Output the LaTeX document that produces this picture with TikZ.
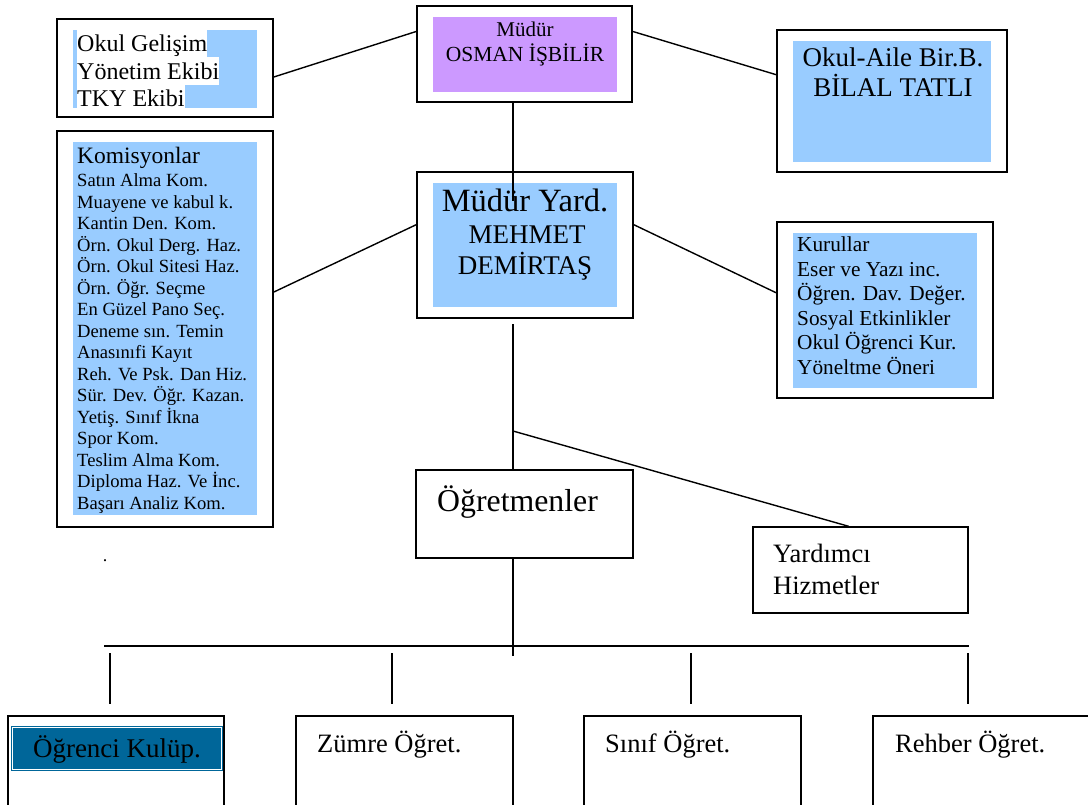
\documentclass[tikz,border=0pt]{standalone}
\usepackage{fontspec}
\setmainfont{Liberation Serif}
\usetikzlibrary{calc}
\definecolor{lblue}{HTML}{99CCFF}
\definecolor{lpurp}{HTML}{CC99FF}
\definecolor{dblue}{HTML}{006699}
\begin{document}
\begin{tikzpicture}[x=1pt,y=-1pt,
  box/.style={draw=black, line width=1.8pt, fill=white, inner sep=0pt},
  fillrect/.style={inner sep=0pt, draw=none},
  conn/.style={line width=1.4pt, line cap=rect},
  txt/.style={inner sep=0pt, anchor=base west},
  ctxt/.style={inner sep=0pt, anchor=base},
]
\useasboundingbox (0,0) rectangle (1088,805);

% ---------- boxes ----------
\node[box, minimum width=216pt, minimum height=98pt] (og) at (165,68) {};
\node[box, minimum width=215pt, minimum height=96pt] (mud) at (524.5,54) {};
\node[box, minimum width=230pt, minimum height=142pt] (oab) at (892,101) {};
\node[box, minimum width=216pt, minimum height=396pt] (kom) at (165,329) {};
\node[box, minimum width=216pt, minimum height=146pt] (my) at (525,245) {};
\node[box, minimum width=216pt, minimum height=176pt] (kur) at (885,310) {};
\node[box, minimum width=217pt, minimum height=88pt] (ogr) at (524.5,514) {};
\node[box, minimum width=215pt, minimum height=86pt] (yh) at (860.5,570) {};
\node[box, minimum width=216pt, minimum height=92pt] (ok) at (116,762) {};
\node[box, minimum width=217pt, minimum height=92pt] (zo) at (404.5,762) {};
\node[box, minimum width=217pt, minimum height=92pt] (si) at (692.5,762) {};
\node[box, minimum width=217pt, minimum height=92pt] (re) at (981.5,762) {};

% ---------- fills ----------
\node[fillrect, fill=lblue, minimum width=184pt, minimum height=78pt] (ogf) at (165,69) {};
\node[fillrect, fill=lpurp, minimum width=184pt, minimum height=75pt] (mudf) at (525,54.5) {};
\node[fillrect, fill=lblue, minimum width=198pt, minimum height=121pt] (oabf) at (892,101.5) {};
\node[fillrect, fill=lblue, minimum width=184pt, minimum height=373pt] (komf) at (165,328.5) {};
\node[fillrect, fill=lblue, minimum width=184pt, minimum height=124pt] (myf) at (525,245) {};
\node[fillrect, fill=lblue, minimum width=184pt, minimum height=155pt] (kurf) at (885,310.5) {};
\node[fillrect, fill=dblue, minimum width=212pt, minimum height=45pt] (okf) at (117,748.5) {};
\draw[white, line width=0.8pt] ($(okf.north west)+(2,2)$) rectangle ($(okf.south east)+(-2,-2)$);

% ---------- texts ----------
\node[txt, fill=white, text height=22pt, text depth=5pt, font=\fontsize{24}{27}\selectfont] (og1) at (77,52) {Okul Gelişim};
\node[txt, fill=white, text height=22.5pt, text depth=5.5pt, font=\fontsize{24}{27}\selectfont] (og2) at (77,79.5) {Yönetim Ekibi};
\node[txt, fill=white, text height=22pt, text depth=1pt, font=\fontsize{24}{27}\selectfont] (og3) at (77,107) {TKY Ekibi};

\node[ctxt, font=\fontsize{21}{24}\selectfont] (mud1) at (525,37) {Müdür};
\node[ctxt, font=\fontsize{21.5}{25}\selectfont] (mud2) at (525,62) {OSMAN İŞBİLİR};

\node[ctxt, font=\fontsize{27}{31}\selectfont] (oab1) at (893,67) {Okul-Aile Bir.B.};
\node[ctxt, font=\fontsize{27}{31}\selectfont] (oab2) at (893,97) {BİLAL TATLI};

\node[txt, font=\fontsize{23.5}{27}\selectfont] (kom0) at (77,164) {Komisyonlar};
\foreach \t [count=\i from 0] in {Satın Alma Kom., Muayene ve kabul k., Kantin Den. Kom., Örn. Okul Derg. Haz., Örn. Okul Sitesi Haz., Örn. Öğr. Seçme, En Güzel Pano Seç., Deneme sın. Temin, Anasınıfi Kayıt, Reh. Ve Psk. Dan Hiz., Sür. Dev. Öğr. Kazan., Yetiş. Sınıf İkna, Spor Kom., Teslim Alma Kom., Diploma Haz. Ve İnc., Başarı Analiz Kom.}
  \node[txt, font=\fontsize{18.6}{21}\selectfont] (komt\i) at (77,187+21.47*\i) {\t};

\node[ctxt, font=\fontsize{32.5}{36}\selectfont] (my1) at (525,212) {Müdür Yard.};
\node[ctxt, font=\fontsize{27}{31}\selectfont] (my2) at (527,244) {MEHMET};
\node[ctxt, font=\fontsize{27}{31}\selectfont] (my3) at (525,275) {DEMİRTAŞ};

\foreach \t [count=\i from 0] in {Kurullar, Eser ve Yazı inc., Öğren. Dav. Değer., Sosyal Etkinlikler, Okul Öğrenci Kur., Yöneltme Öneri}
  \node[txt, font=\fontsize{21.3}{24}\selectfont] (kurt\i) at (797,252+24.4*\i) {\t};

\node[txt, font=\fontsize{31.8}{36}\selectfont] (ogrt) at (437,511) {Öğretmenler};
\node[txt, font=\fontsize{26.5}{31}\selectfont] (yh1) at (773,562) {Yardımcı};
\node[txt, font=\fontsize{26.5}{31}\selectfont] (yh2) at (773,594) {Hizmetler};

\node[ctxt, font=\fontsize{27}{31}\selectfont] (okt) at (117,757) {Öğrenci Kulüp.};
\node[txt, font=\fontsize{26.5}{31}\selectfont] (zot) at (317,752) {Zümre Öğret.};
\node[txt, font=\fontsize{26.5}{31}\selectfont] (sit) at (605,752) {Sınıf Öğret.};
\node[txt, font=\fontsize{26.5}{31}\selectfont] (ret) at (895,752) {Rehber Öğret.};

\node[ctxt, font=\fontsize{18}{21}\selectfont] (dot) at (105,561) {.};

% ---------- connectors ----------
\coordinate (m1) at (513,200);
\coordinate (m2) at (513,325);
\coordinate (br) at (513,431);
\coordinate (m3) at (513,655);
\coordinate (hl) at (105,646);
\coordinate (hr) at (968,646);

\draw[conn] ($(og.north east)!0.59!(og.south east)$) -- ($(mud.north west)!0.27!(mud.south west)$);
\draw[conn] ($(mud.north east)!0.27!(mud.south east)$) -- ($(oab.north west)!0.317!(oab.south west)$);
\draw[conn] ($(kom.north east)!0.407!(kom.south east)$) -- ($(my.north west)!0.363!(my.south west)$);
\draw[conn] ($(my.north east)!0.363!(my.south east)$) -- ($(kur.north west)!0.403!(kur.south west)$);

\draw[conn] (mud.south -| m1) -- (m1);
\draw[conn] (m2) -- (ogr.north -| m2);
\draw[conn] (br) -- ($(yh.north west)!0.442!(yh.north east)$);
\draw[conn] (ogr.south -| m3) -- (m3);
\draw[conn] (hl) -- (hr);

\foreach \x [count=\j] in {110,392,691,968} {
  \coordinate (ta\j) at (\x,654);
  \coordinate (tb\j) at (\x,703);
  \draw[conn] (ta\j) -- (tb\j);
}
\end{tikzpicture}
\end{document}
